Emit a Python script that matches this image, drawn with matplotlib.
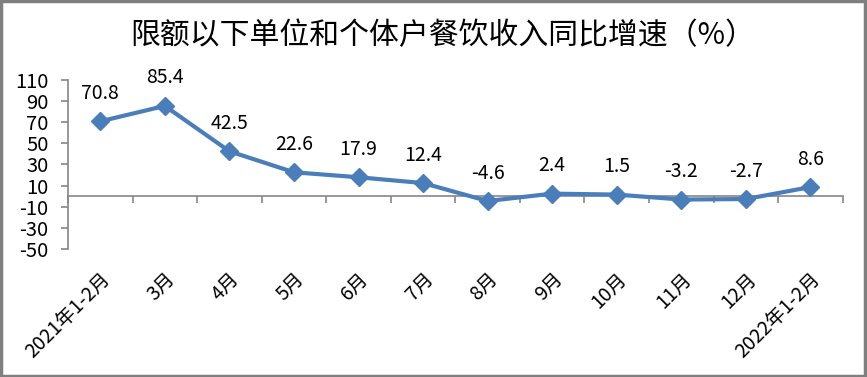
import numpy as np
import matplotlib.pyplot as plt
from matplotlib.patches import Rectangle

plt.rcParams['font.family'] = ['Noto Sans CJK SC', 'DejaVu Sans']

# 数据
months = ['2021年1-2月', '3月', '4月', '5月', '6月', '7月', '8月', '9月',
          '10月', '11月', '12月', '2022年1-2月']
growth = [70.8, 85.4, 42.5, 22.6, 17.9, 12.4, -4.6, 2.4, 1.5, -3.2, -2.7, 8.6]
y_ticks = [110, 90, 70, 50, 30, 10, -10, -30, -50]

fig = plt.figure(figsize=(8.67, 3.77), dpi=100)
ax = fig.add_axes([0.0784, 0.3395, 0.8936, 0.4485])

x = np.arange(len(months))
ax.plot(x, growth, color='#4A7EBB', linewidth=3, marker='D', markersize=9,
        markerfacecolor='#4A7EBB', markeredgecolor='#4A7EBB', zorder=3)

for xi, v in zip(x, growth):
    ax.annotate('%.1f' % v, (xi, v), xytext=(0, 28), textcoords='offset pixels',
                ha='center', va='center', fontsize=14, color='#000000')

ax.set_xlim(-0.5, len(months) - 0.5)
ax.set_ylim(-50, 110)
ax.set_yticks(y_ticks)
ax.set_yticklabels([str(t) for t in y_ticks], fontsize=14.5)
ax.set_xticks(x)
ax.set_xticklabels(months, rotation=45, ha='right', rotation_mode='anchor', fontsize=14)
ax.tick_params(axis='x', length=0, pad=14)
ax.tick_params(axis='y', length=5, width=1.2, color='#868686', pad=9)

for s in ['top', 'right', 'bottom']:
    ax.spines[s].set_visible(False)
ax.spines['left'].set_color('#868686')
ax.spines['left'].set_linewidth(1.2)

# 零线 + 分类刻度
zero_pos = (0 - (-50)) / (110 - (-50))
ax0 = ax.secondary_xaxis(zero_pos)
ax0.set_xticks(np.arange(len(months) + 1) - 0.5)
ax0.set_xticklabels([])
ax0.tick_params(axis='x', direction='out', length=5, width=1.2, color='#868686')
ax0.spines['bottom'].set_color('#868686')
ax0.spines['bottom'].set_linewidth(1.2)

fig.text(0.511, 0.905, '限额以下单位和个体户餐饮收入同比增速（%）', ha='center', va='center',
         fontsize=21.5)

# 外框
fig.patches.append(Rectangle((0.001, 0.002), 0.997, 0.995, transform=fig.transFigure,
                             fill=False, edgecolor='#7F7F7F', linewidth=2.5))

plt.savefig('out.png', dpi=100)
